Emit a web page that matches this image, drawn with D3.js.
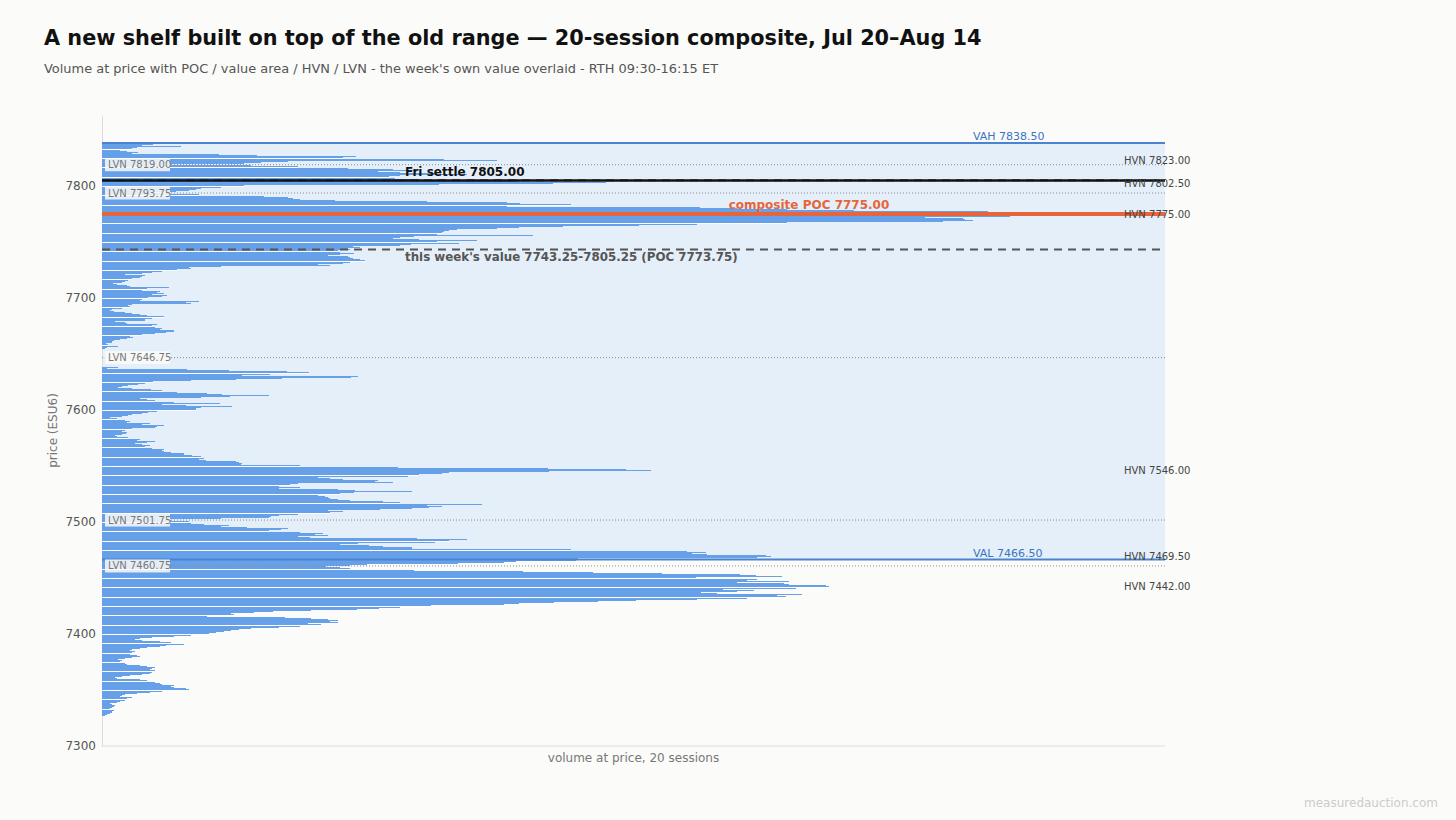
<!DOCTYPE html>
<html>
<head>
<meta charset="utf-8">
<script src="https://cdn.jsdelivr.net/npm/d3@7"></script>
<style>
  body { margin: 0; background: #fbfbf9; font-family: "DejaVu Sans", sans-serif; }
</style>
</head>
<body>
<script>
// composite volume profile, 1-pt rows, from the top price down
const topPrice = 7839
const volume = [
  30, 45, 51, 40, 80, 35, 30, 18, 25,
  36, 30, 118, 156, 256, 243, 345, 398, 188, 160,
  143, 60, 150, 198, 248, 293, 318, 278, 300, 338,
  368, 300, 289, 295, 320, 398, 420, 508, 455, 340,
  143, 120, 100, 95, 88, 75, 50, 68, 98, 163,
  188, 193, 200, 235, 328, 408, 421, 473, 408, 603,
  640, 691, 758, 893, 860, 940, 890, 915, 830, 868,
  870, 878, 848, 691, 600, 541, 465, 420, 398, 358,
  350, 345, 343, 338, 434, 315, 300, 293, 320, 378,
  338, 360, 311, 300, 253, 260, 248, 250, 238, 240,
  254, 240, 228, 248, 250, 253, 260, 265, 250, 243,
  218, 230, 120, 88, 90, 76, 60, 50, 40, 23,
  43, 40, 38, 30, 26, 23, 20, 11, 15, 25,
  28, 68, 45, 40, 58, 55, 63, 50, 66, 60,
  46, 40, 38, 98, 85, 90, 30, 26, 28, 20,
  10, 8, 12, 23, 30, 38, 45, 63, 50, 43,
  43, 13, 23, 25, 55, 50, 53, 60, 58, 73,
  73, 65, 53, 40, 28, 31, 25, 18, 12, 10,
  10, 4, 6, 16, 5, 3, 0, 0, 0, 0,
  0, 0, 0, 0, 0, 0, 0, 0, 0, 0,
  0, 0, 16, 5, 86, 128, 186, 209, 169, 141,
  258, 251, 181, 135, 90, 51, 43, 36, 26, 20,
  16, 30, 49, 60, 76, 106, 121, 168, 129, 100,
  38, 45, 53, 73, 119, 60, 85, 131, 100, 95,
  95, 55, 46, 40, 30, 26, 20, 8, 15, 23,
  28, 25, 48, 40, 63, 55, 53, 30, 23, 20,
  25, 24, 20, 13, 15, 26, 38, 35, 53, 45,
  33, 40, 48, 43, 50, 63, 60, 63, 70, 83,
  83, 91, 100, 103, 98, 105, 135, 138, 141, 140,
  200, 298, 450, 528, 553, 451, 350, 343, 320, 308,
  218, 230, 243, 278, 275, 293, 198, 190, 178, 200,
  178, 238, 255, 313, 254, 240, 218, 225, 228, 230,
  238, 250, 283, 300, 383, 328, 343, 330, 313, 280,
  228, 243, 230, 198, 178, 170, 168, 120, 60, 70,
  88, 90, 103, 128, 120, 146, 188, 180, 168, 200,
  223, 215, 228, 198, 210, 318, 368, 350, 336, 258,
  240, 269, 283, 313, 313, 473, 590, 609, 595, 610,
  669, 674, 660, 480, 478, 417, 405, 359, 267, 250,
  226, 240, 250, 315, 424, 495, 565, 643, 659, 685,
  599, 660, 650, 693, 640, 688, 693, 730, 733, 700,
  626, 657, 640, 604, 620, 706, 680, 690, 650, 600,
  538, 500, 456, 420, 405, 332, 300, 279, 257, 211,
  172, 153, 130, 133, 106, 184, 211, 228, 238, 230,
  238, 208, 221, 200, 178, 150, 138, 130, 123, 115,
  108, 90, 73, 50, 38, 33, 40, 58, 70, 83,
  65, 58, 45, 38, 30, 28, 33, 30, 28, 35,
  38, 30, 23, 16, 20, 18, 23, 25, 38, 45,
  53, 50, 48, 53, 50, 48, 40, 28, 20, 13,
  15, 38, 45, 53, 58, 60, 73, 70, 73, 85,
  88, 60, 48, 35, 23, 20, 18, 30, 25, 23,
  18, 15, 8, 10, 13, 12, 10, 8, 12, 10,
  10, 8, 5, 3
]
const prices = volume.map((v, i) => topPrice - i)

const vah = 7838.50
const val = 7466.50
const poc = 7775.00
const settle = 7805.00
const weekVal = [7743.25, 7805.25]
const weekPoc = 7773.75
const hvn = [7823.00, 7802.50, 7775.00, 7546.00, 7469.50, 7442.00]
const lvn = [7819.00, 7793.75, 7646.75, 7501.75, 7460.75]
const yTicks = [7300, 7400, 7500, 7600, 7700, 7800]

const W = 1456, H = 820
const mLeft = 102, mRight = 1165, mTop = 115, mBottom = 746

const svg = d3.select("body").append("svg").attr("width", W).attr("height", H)
    .style("font-family", "'DejaVu Sans', sans-serif")

const y = d3.scaleLinear().domain([7300, 7863.4]).range([mBottom, mTop])
const x = d3.scaleLinear().domain([0, d3.max(volume) * 1.14]).range([mLeft, mRight])

//title
svg.append("text").attr("x", 44).attr("y", 45).attr("font-size", 20.8).attr("font-weight", "bold")
    .attr("fill", "#111").text("A new shelf built on top of the old range — 20-session composite, Jul 20–Aug 14")
svg.append("text").attr("x", 44).attr("y", 73).attr("font-size", 12.95).attr("fill", "#555")
    .text("Volume at price with POC / value area / HVN / LVN - the week's own value overlaid - RTH 09:30-16:15 ET")

// value area band
svg.append("rect").attr("x", mLeft).attr("width", mRight - mLeft)
    .attr("y", y(vah)).attr("height", y(val) - y(vah)).attr("fill", "#e5eff9")

// axes
const yAxis = svg.append("g").attr("transform", "translate(" + mLeft + ",0)")
    .call(d3.axisLeft(y).tickValues(yTicks).tickSize(0).tickPadding(6).tickFormat(d3.format("d")))
yAxis.select(".domain").attr("stroke", "#ddd")
yAxis.selectAll("text").attr("font-size", 12).attr("fill", "#555").style("font-family", "'DejaVu Sans', sans-serif")
svg.append("line").attr("x1", mLeft).attr("x2", mRight).attr("y1", mBottom).attr("y2", mBottom).attr("stroke", "#ddd")

svg.append("text").attr("transform", "translate(57," + ((mTop + mBottom) / 2) + ") rotate(-90)")
    .attr("text-anchor", "middle").attr("font-size", 12).attr("fill", "#777").text("price (ESU6)")
svg.append("text").attr("x", (mLeft + mRight) / 2).attr("y", 762).attr("text-anchor", "middle")
    .attr("font-size", 12).attr("fill", "#777").text("volume at price, 20 sessions")

// profile bars: white under-row then a slightly thinner blue row
const rows = svg.append("g").attr("shape-rendering", "crispEdges")
rows.selectAll("rect.under").data(prices).enter()
    .append("rect").attr("class", "under")
    .attr("x", mLeft).attr("y", p => y(p + 0.5))
    .attr("width", (p, i) => x(volume[i]) - mLeft)
    .attr("height", y(7300) - y(7301))
    .attr("fill", "#fff")
rows.selectAll("rect.bar").data(prices).enter()
    .append("rect").attr("class", "bar")
    .attr("x", mLeft).attr("y", p => y(p + 0.5))
    .attr("width", (p, i) => x(volume[i]) - mLeft)
    .attr("height", 1.0)
    .attr("fill", "#66a0e8")

// LVN dotted lines
svg.selectAll("line.lvn").data(lvn).enter().append("line")
    .attr("x1", mLeft).attr("x2", mRight).attr("y1", d => y(d)).attr("y2", d => y(d))
    .attr("stroke", "#888").attr("stroke-width", 1).attr("stroke-dasharray", "1,2")

// this week's value edges
svg.selectAll("line.week").data(weekVal).enter().append("line")
    .attr("x1", mLeft).attr("x2", mRight).attr("y1", d => y(d)).attr("y2", d => y(d))
    .attr("stroke", "#555").attr("stroke-width", 2).attr("stroke-dasharray", "8,6")

// composite POC
svg.append("line").attr("x1", mLeft).attr("x2", mRight).attr("y1", y(poc)).attr("y2", y(poc))
    .attr("stroke", "#e8643a").attr("stroke-width", 4)
// settle
svg.append("line").attr("x1", mLeft).attr("x2", mRight).attr("y1", y(settle)).attr("y2", y(settle))
    .attr("stroke", "#111").attr("stroke-width", 2.5)
// VAH / VAL
svg.selectAll("line.va").data([vah, val]).enter().append("line")
    .attr("x1", mLeft).attr("x2", mRight).attr("y1", d => y(d)).attr("y2", d => y(d))
    .attr("stroke", "#4a84d0").attr("stroke-width", 2)

svg.selectAll("text.va").data([["VAH", vah], ["VAL", val]]).enter().append("text")
    .attr("x", 973).attr("y", d => y(d[1]) - 3).attr("font-size", 11).attr("fill", "#3b73c4")
    .text(d => d[0] + " " + d[1].toFixed(2))

svg.append("text").attr("x", 809).attr("y", y(poc) - 5).attr("text-anchor", "middle")
    .attr("font-size", 12).attr("font-weight", "bold").attr("fill", "#e8643a")
    .text("composite POC " + poc.toFixed(2))
svg.append("text").attr("x", 405).attr("y", y(settle) - 4)
    .attr("font-size", 12).attr("font-weight", "bold").attr("fill", "#111")
    .text("Fri settle " + settle.toFixed(2))
svg.append("text").attr("x", 405).attr("y", y(weekVal[0]) + 11)
    .attr("font-size", 11.85).attr("font-weight", "bold").attr("fill", "#555")
    .text("this week's value " + weekVal[0].toFixed(2) + "-" + weekVal[1].toFixed(2) + " (POC " + weekPoc.toFixed(2) + ")")

// HVN labels on the right
svg.selectAll("text.hvn").data(hvn).enter().append("text")
    .attr("x", 1124).attr("y", d => y(d)).attr("dy", "0.35em")
    .attr("font-size", 10).attr("fill", "#444")
    .text(d => "HVN " + d.toFixed(2))

// LVN labels on the left
const lv = svg.selectAll("g.lvnlab").data(lvn).enter().append("g")
    .attr("transform", d => "translate(105," + y(d) + ")")
lv.append("rect").attr("x", 0).attr("y", -6.5).attr("width", 65).attr("height", 13)
    .attr("fill", "#fbfbf9").attr("opacity", 0.85)
lv.append("text").attr("x", 3).attr("dy", "0.35em").attr("font-size", 10).attr("fill", "#777")
    .text(d => "LVN " + d.toFixed(2))

svg.append("text").attr("x", 1438).attr("y", 807).attr("text-anchor", "end")
    .attr("font-size", 12).attr("fill", "#ccc").text("measuredauction.com")
</script>
</body>
</html>
